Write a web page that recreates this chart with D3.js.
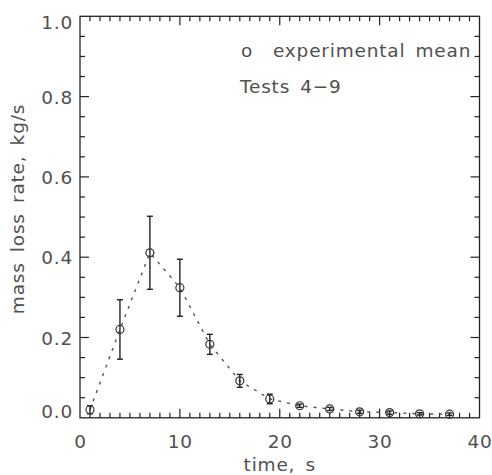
<!DOCTYPE html>
<html><head><meta charset="utf-8">
<script src="https://cdn.jsdelivr.net/npm/d3@7"></script>
<style>body{margin:0;background:#fff}svg{display:block}text{font-family:"DejaVu Sans",sans-serif;fill:#505050;letter-spacing:0.8px;word-spacing:3.5px}</style>
</head><body>
<script>
const times = [1, 4, 7, 10, 13, 16, 19, 22, 25, 28, 31, 34, 37];
const means = [0.020, 0.220, 0.411, 0.324, 0.183, 0.092, 0.047, 0.030, 0.022, 0.015, 0.013, 0.010, 0.009];
const errs  = [0.010, 0.074, 0.091, 0.071, 0.025, 0.016, 0.012, 0.004, 0.004, 0.004, 0.004, 0.003, 0.003];
const xTicks = [0, 10, 20, 30, 40];
const yTicks = [0.0, 0.2, 0.4, 0.6, 0.8, 1.0];
const legendLines = ["experimental mean", "Tests 4\u22129"];
const xTitle = "time, s";
const yTitle = "mass loss rate, kg/s";

const W = 492, H = 475;
const svg = d3.select("body").append("svg").attr("width", W).attr("height", H);
const x = d3.scaleLinear().domain([0, 40]).range([80, 479.5]);
const y = d3.scaleLinear().domain([0, 1]).range([417.8, 16.3]);
const axisCol = "#222";

// frame
svg.append("rect").attr("x", x(0)).attr("y", y(1)).attr("width", x(40) - x(0)).attr("height", y(0) - y(1))
  .attr("fill", "none").attr("stroke", axisCol).attr("stroke-width", 1.3);

// ticks
const xMinor = d3.range(1, 40).filter(v => v % 10 !== 0);
const yMinor = d3.range(1, 20).map(v => v * 0.05).filter((v, i) => (i + 1) % 4 !== 0);
const g = svg.append("g").attr("stroke", axisCol).attr("stroke-width", 1.2);
xTicks.slice(1, -1).forEach(v => {
  g.append("line").attr("x1", x(v)).attr("x2", x(v)).attr("y1", y(0)).attr("y2", y(0) - 9);
  g.append("line").attr("x1", x(v)).attr("x2", x(v)).attr("y1", y(1)).attr("y2", y(1) + 9);
});
xMinor.forEach(v => {
  g.append("line").attr("x1", x(v)).attr("x2", x(v)).attr("y1", y(0)).attr("y2", y(0) - 5);
  g.append("line").attr("x1", x(v)).attr("x2", x(v)).attr("y1", y(1)).attr("y2", y(1) + 5);
});
yTicks.slice(1, -1).forEach(v => {
  g.append("line").attr("x1", x(0)).attr("x2", x(0) + 9).attr("y1", y(v)).attr("y2", y(v));
  g.append("line").attr("x1", x(40)).attr("x2", x(40) - 9).attr("y1", y(v)).attr("y2", y(v));
});
yMinor.forEach(v => {
  g.append("line").attr("x1", x(0)).attr("x2", x(0) + 5).attr("y1", y(v)).attr("y2", y(v));
  g.append("line").attr("x1", x(40)).attr("x2", x(40) - 5).attr("y1", y(v)).attr("y2", y(v));
});

// tick labels
const fs = 18.5;
xTicks.forEach(v => {
  svg.append("text").attr("x", x(v) + 0.5).attr("y", 448).attr("text-anchor", "middle")
    .attr("font-size", fs).text(v);
});
yTicks.forEach(v => {
  let by = y(v) + 7;
  if (v === 1) by = y(v) + 13;
  if (v === 0) by = y(v);
  svg.append("text").attr("x", 73).attr("y", by).attr("text-anchor", "end")
    .attr("font-size", fs).text(d3.format(".1f")(v));
});

// titles
svg.append("text").attr("x", x(20)).attr("y", 471).attr("text-anchor", "middle").attr("font-size", fs).text(xTitle);
svg.append("text").attr("transform", "translate(24," + 209 + ") rotate(-90)").attr("text-anchor", "middle")
  .attr("font-size", fs).text(yTitle);

// dashed line
const data = times.map((t, i) => ({t, m: means[i], e: errs[i]}));
svg.append("path").datum(data)
  .attr("d", d3.line().x(d => x(d.t)).y(d => y(d.m)))
  .attr("fill", "none").attr("stroke", "#555").attr("stroke-width", 1.4).attr("stroke-dasharray", "3,6");

// error bars
const eb = svg.append("g").attr("stroke", "#222").attr("stroke-width", 1.4).attr("fill", "none");
data.forEach(d => {
  eb.append("line").attr("x1", x(d.t)).attr("x2", x(d.t)).attr("y1", y(d.m - d.e)).attr("y2", y(d.m + d.e));
  [d.m - d.e, d.m + d.e].forEach(v => {
    eb.append("line").attr("x1", x(d.t) - 3).attr("x2", x(d.t) + 3).attr("y1", y(v)).attr("y2", y(v));
  });
});
// markers
svg.append("g").selectAll("circle").data(data).join("circle")
  .attr("cx", d => x(d.t)).attr("cy", d => y(d.m)).attr("r", 4)
  .attr("fill", "none").attr("stroke", "#333").attr("stroke-width", 1.2);

// legend
svg.append("text").attr("x", 241).attr("y", 57).attr("font-size", fs).text("o");
svg.append("text").attr("x", 273).attr("y", 57).attr("font-size", fs).text(legendLines[0]);
svg.append("text").attr("x", 240).attr("y", 93).attr("font-size", fs).text(legendLines[1]);
</script>
</body></html>
